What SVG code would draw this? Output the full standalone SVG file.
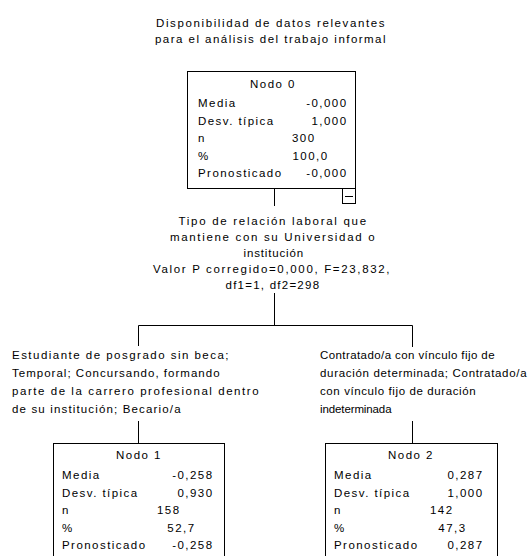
<svg xmlns="http://www.w3.org/2000/svg" width="531" height="556" viewBox="0 0 531 556">
<style>
text{font-family:"Liberation Sans",Arial,sans-serif;font-size:11.5px;letter-spacing:1.45px;fill:#000}
.c{text-anchor:middle}
.e{text-anchor:end}
.box{fill:#fff;stroke:#000;stroke-width:1}
.ln{fill:none;stroke:#000;stroke-width:1}
</style>
<rect width="531" height="556" fill="#fff"/>
<g id="title">
<text x="271" y="27" class="c" textLength="230" lengthAdjust="spacing">Disponibilidad de datos relevantes</text>
<text x="271" y="43" class="c" textLength="232" lengthAdjust="spacing">para el análisis del trabajo informal</text>
</g>
<g id="connectors">
<path class="ln" d="M274.5 188.5V206"/>
<path class="ln" d="M274.5 293V325.5M138.5 325.5H412.5M138.5 325.5V346M412.5 325.5V347"/>
<path class="ln" d="M138.5 421V443.5M412.5 421V443.5"/>
</g>
<g id="split-label">
<text x="273" y="225" class="c" textLength="189" lengthAdjust="spacing">Tipo de relación laboral que</text>
<text x="273" y="241" class="c" textLength="206" lengthAdjust="spacing">mantiene con su Universidad o</text>
<text x="274" y="257" class="c" textLength="61" lengthAdjust="spacing">institución</text>
<text x="272" y="273" class="c" textLength="238" lengthAdjust="spacing">Valor P corregido=0,000, F=23,832,</text>
<text x="273" y="289" class="c" textLength="95" lengthAdjust="spacing">df1=1, df2=298</text>
</g>
<g id="label-left">
<text x="12" y="359" textLength="218" lengthAdjust="spacing">Estudiante de posgrado sin beca;</text>
<text x="12" y="377" textLength="209" lengthAdjust="spacing">Temporal; Concursando, formando</text>
<text x="12" y="395" textLength="248" lengthAdjust="spacing">parte de la carrero profesional dentro</text>
<text x="12" y="413" textLength="170" lengthAdjust="spacing">de su institución; Becario/a</text>
</g>
<g id="label-right">
<text x="320" y="359" textLength="176" lengthAdjust="spacing">Contratado/a con vínculo fijo de</text>
<text x="320" y="377" textLength="208" lengthAdjust="spacing">duración determinada; Contratado/a</text>
<text x="320" y="395" textLength="157" lengthAdjust="spacing">con vínculo fijo de duración</text>
<text x="320" y="413" textLength="73" lengthAdjust="spacing">indeterminada</text>
</g>
<g id="node0">
<rect class="box" x="187.5" y="71.5" width="168" height="117"/>
<text x="273" y="88" class="c">Nodo 0</text>
<text x="198" y="107">Media</text><text x="347.5" y="107" class="e">-0,000</text>
<text x="198" y="124.5">Desv. típica</text><text x="347.5" y="124.5" class="e">1,000</text>
<text x="198" y="142">n</text><text x="315.5" y="142" class="e">300</text>
<text x="198" y="159.5">%</text><text x="328.5" y="159.5" class="e">100,0</text>
<text x="198" y="177">Pronosticado</text><text x="347.5" y="177" class="e">-0,000</text>
<rect class="box" x="342.5" y="188.5" width="13" height="15"/>
<path class="ln" d="M345 196.5H353"/>
</g>
<g id="node1">
<rect class="box" x="53.5" y="443.5" width="171" height="120"/>
<text x="139" y="459" class="c">Nodo 1</text>
<text x="62" y="479">Media</text><text x="213.5" y="479" class="e">-0,258</text>
<text x="62" y="496.5">Desv. típica</text><text x="213.5" y="496.5" class="e">0,930</text>
<text x="62" y="514">n</text><text x="180.5" y="514" class="e">158</text>
<text x="62" y="531.5">%</text><text x="195.5" y="531.5" class="e">52,7</text>
<text x="62" y="549">Pronosticado</text><text x="213.5" y="549" class="e">-0,258</text>
</g>
<g id="node2">
<rect class="box" x="325.5" y="443.5" width="172" height="120"/>
<text x="411" y="459" class="c">Nodo 2</text>
<text x="334" y="479">Media</text><text x="483.5" y="479" class="e">0,287</text>
<text x="334" y="496.5">Desv. típica</text><text x="483.5" y="496.5" class="e">1,000</text>
<text x="334" y="514">n</text><text x="453.5" y="514" class="e">142</text>
<text x="334" y="531.5">%</text><text x="466.5" y="531.5" class="e">47,3</text>
<text x="334" y="549">Pronosticado</text><text x="483.5" y="549" class="e">0,287</text>
</g>
</svg>
